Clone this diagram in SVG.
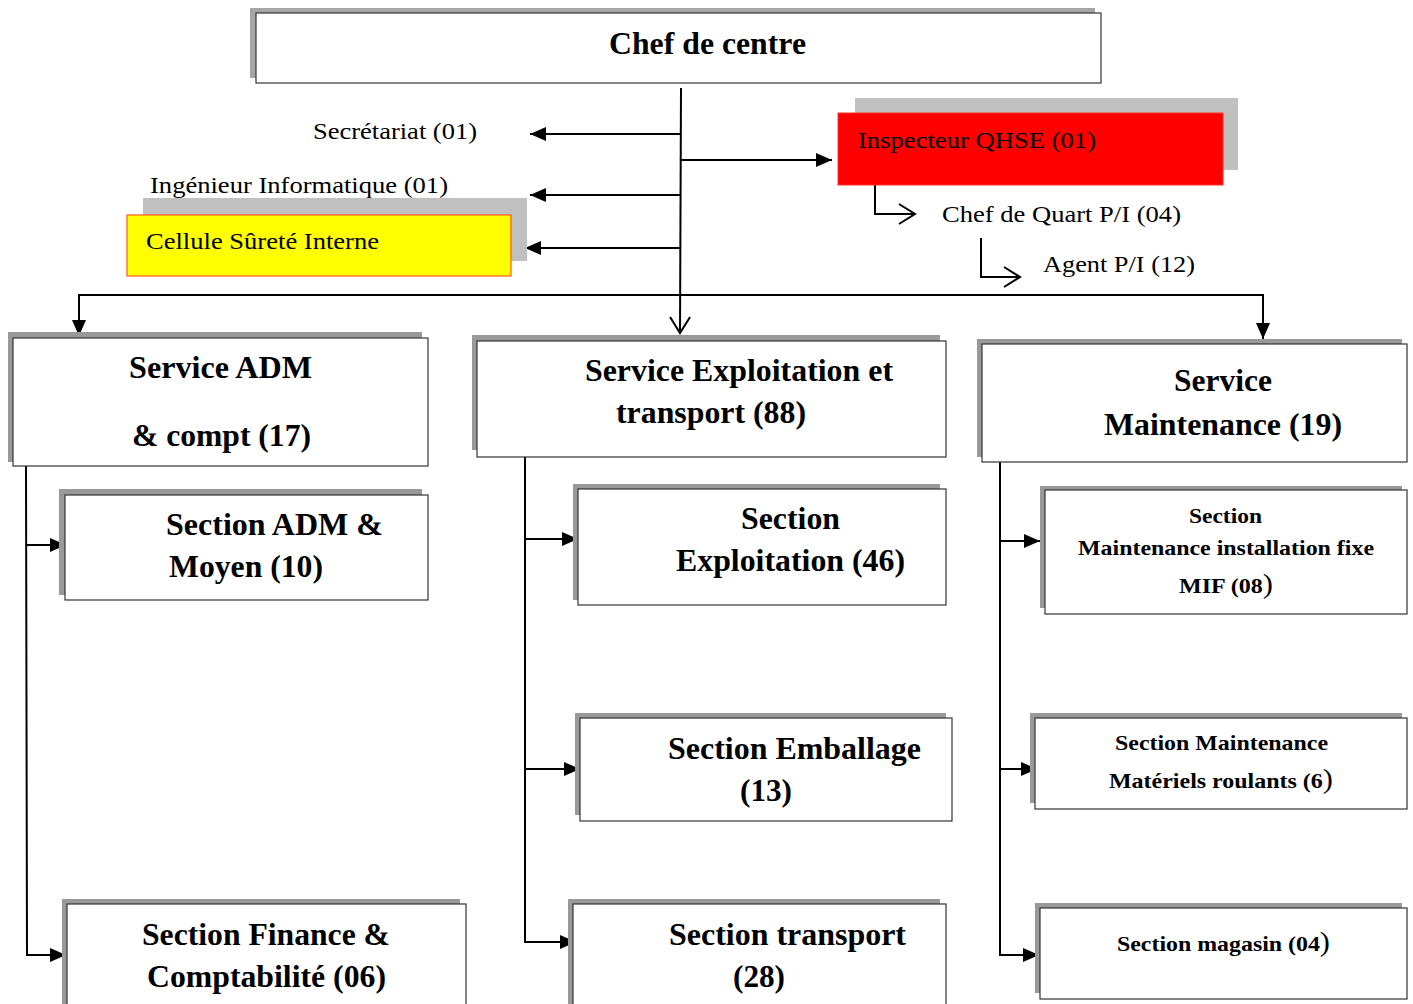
<svg xmlns="http://www.w3.org/2000/svg" width="1413" height="1004" viewBox="0 0 1413 1004">
<style>
.box{fill:#fff;stroke:#333;stroke-width:1.2}
.sh{fill:#999}
.shl{fill:#c0c0c0}
.t{font-family:"Liberation Serif","Times New Roman",serif;fill:#000}
.b{font-weight:bold;font-size:31px}
.s{font-weight:bold;font-size:22px}
.r{font-size:24px}
.ln{stroke:#000;stroke-width:2;fill:none}
</style>
<defs>
<marker id="fa" markerUnits="userSpaceOnUse" markerWidth="18" markerHeight="16" refX="16" refY="8" orient="auto">
<path d="M0,1 L16,8 L0,15 Z" fill="#000"/>
</marker>
<marker id="oa" markerUnits="userSpaceOnUse" markerWidth="20" markerHeight="24" refX="18" refY="12" orient="auto">
<path d="M2,2 L18,12 L2,22" fill="none" stroke="#000" stroke-width="2"/>
</marker>
</defs>

<g id="connectors">
<line class="ln" x1="681" y1="88" x2="680" y2="333" marker-end="url(#oa)"/>
<line class="ln" x1="681" y1="134" x2="530" y2="134" marker-end="url(#fa)"/>
<line class="ln" x1="681" y1="195" x2="530" y2="195" marker-end="url(#fa)"/>
<line class="ln" x1="680" y1="248" x2="525" y2="248" marker-end="url(#fa)"/>
<line class="ln" x1="681" y1="160" x2="832" y2="160" marker-end="url(#fa)"/>
<polyline class="ln" points="875,176 875,214 915,214" marker-end="url(#oa)"/>
<polyline class="ln" points="981,238 981,277 1020,277" marker-end="url(#oa)"/>
<polyline class="ln" points="79,295 1263,295"/>
<line class="ln" x1="79" y1="294" x2="79" y2="336" marker-end="url(#fa)"/>
<line class="ln" x1="1263" y1="294" x2="1263" y2="339" marker-end="url(#fa)"/>
<polyline class="ln" points="26,466 27,955 66,955" marker-end="url(#fa)"/>
<line class="ln" x1="27" y1="545" x2="66" y2="545" marker-end="url(#fa)"/>
<polyline class="ln" points="525,457 525,942 576,942" marker-end="url(#fa)"/>
<line class="ln" x1="525" y1="539" x2="578" y2="539" marker-end="url(#fa)"/>
<line class="ln" x1="525" y1="769" x2="580" y2="769" marker-end="url(#fa)"/>
<polyline class="ln" points="1000,462 1000,955 1039,955" marker-end="url(#fa)"/>
<line class="ln" x1="1000" y1="541" x2="1040" y2="541" marker-end="url(#fa)"/>
<line class="ln" x1="1000" y1="769" x2="1037" y2="769" marker-end="url(#fa)"/>
</g>

<g id="chef">
<rect x="250" y="8" width="845" height="70" fill="#a6a6a6"/>
<rect class="box" x="256" y="13" width="845" height="70"/>
<text class="t b" x="609" y="54" textLength="197" lengthAdjust="spacingAndGlyphs">Chef de centre</text>
</g>

<g id="secretariat">
<text class="t r" x="313" y="139" textLength="164" lengthAdjust="spacingAndGlyphs">Secrétariat (01)</text>
</g>

<g id="ingenieur">
<text class="t r" x="150" y="193" textLength="298" lengthAdjust="spacingAndGlyphs">Ingénieur Informatique (01)</text>
</g>

<g id="cellule">
<rect class="shl" x="143" y="198" width="384" height="63"/>
<rect x="127" y="215" width="384" height="61" fill="#ffff00" stroke="#ff5a1e" stroke-width="1.2"/>
<text class="t r" x="146" y="249" textLength="233" lengthAdjust="spacingAndGlyphs">Cellule Sûreté Interne</text>
</g>

<g id="qhse">
<rect class="shl" x="855" y="98" width="383" height="72"/>
<rect x="838" y="113" width="385" height="72" fill="#ff0000" stroke="#ff3030" stroke-width="1"/>
<text class="t r" x="858" y="148" fill="#1a0000" textLength="238" lengthAdjust="spacingAndGlyphs">Inspecteur QHSE (01)</text>
</g>

<g id="chefquart">
<text class="t r" x="942" y="222" textLength="239" lengthAdjust="spacingAndGlyphs">Chef de Quart P/I (04)</text>
</g>

<g id="agent">
<text class="t r" x="1043" y="272" textLength="152" lengthAdjust="spacingAndGlyphs">Agent P/I (12)</text>
</g>

<g id="service-adm">
<rect class="sh" x="8" y="332" width="414" height="130"/>
<rect class="box" x="13" y="338" width="415" height="128"/>
<text class="t b" x="129" y="378" textLength="183" lengthAdjust="spacingAndGlyphs">Service ADM</text>
<text class="t b" x="132" y="446" textLength="179" lengthAdjust="spacingAndGlyphs">&amp; compt (17)</text>
</g>

<g id="service-exploitation">
<rect class="sh" x="472" y="335" width="468" height="115"/>
<rect class="box" x="477" y="341" width="469" height="116"/>
<text class="t b" x="585" y="381" textLength="308" lengthAdjust="spacingAndGlyphs">Service Exploitation et</text>
<text class="t b" x="616" y="423" textLength="190" lengthAdjust="spacingAndGlyphs">transport (88)</text>
</g>

<g id="service-maintenance">
<rect class="sh" x="977" y="339" width="425" height="118"/>
<rect class="box" x="982" y="344" width="425" height="118"/>
<text class="t b" x="1174" y="391" textLength="98" lengthAdjust="spacingAndGlyphs">Service</text>
<text class="t b" x="1104" y="435" textLength="238" lengthAdjust="spacingAndGlyphs">Maintenance (19)</text>
</g>

<g id="section-adm-moyen">
<rect class="sh" x="59" y="489" width="363" height="106"/>
<rect class="box" x="65" y="495" width="363" height="105"/>
<text class="t b" x="166" y="535" textLength="217" lengthAdjust="spacingAndGlyphs">Section ADM &amp;</text>
<text class="t b" x="169" y="577" textLength="154" lengthAdjust="spacingAndGlyphs">Moyen (10)</text>
</g>

<g id="section-finance">
<rect class="sh" x="62" y="899" width="398" height="110"/>
<rect class="box" x="67" y="904" width="399" height="110"/>
<text class="t b" x="142" y="945" textLength="248" lengthAdjust="spacingAndGlyphs">Section Finance &amp;</text>
<text class="t b" x="147" y="987" textLength="239" lengthAdjust="spacingAndGlyphs">Comptabilité (06)</text>
</g>

<g id="section-exploitation">
<rect class="sh" x="573" y="484" width="367" height="116"/>
<rect class="box" x="578" y="489" width="368" height="116"/>
<text class="t b" x="741" y="529" textLength="99" lengthAdjust="spacingAndGlyphs">Section</text>
<text class="t b" x="676" y="571" textLength="229" lengthAdjust="spacingAndGlyphs">Exploitation (46)</text>
</g>

<g id="section-emballage">
<rect class="sh" x="575" y="713" width="371" height="102"/>
<rect class="box" x="580" y="718" width="372" height="103"/>
<text class="t b" x="668" y="759" textLength="253" lengthAdjust="spacingAndGlyphs">Section Emballage</text>
<text class="t b" x="740" y="801" textLength="52" lengthAdjust="spacingAndGlyphs">(13)</text>
</g>

<g id="section-transport">
<rect class="sh" x="568" y="899" width="372" height="110"/>
<rect class="box" x="573" y="904" width="373" height="110"/>
<text class="t b" x="669" y="945" textLength="237" lengthAdjust="spacingAndGlyphs">Section transport</text>
<text class="t b" x="733" y="987" textLength="52" lengthAdjust="spacingAndGlyphs">(28)</text>
</g>

<g id="section-mif">
<rect class="sh" x="1040" y="486" width="362" height="122"/>
<rect class="box" x="1045" y="490" width="362" height="124"/>
<text class="t s" x="1189" y="523" textLength="73" lengthAdjust="spacingAndGlyphs">Section</text>
<text class="t s" x="1078" y="555" textLength="296" lengthAdjust="spacingAndGlyphs">Maintenance installation fixe</text>
<text class="t s" x="1179" y="593" textLength="94" lengthAdjust="spacingAndGlyphs">MIF (08<tspan font-size="28px" font-weight="normal">)</tspan></text>
</g>

<g id="section-mr">
<rect class="sh" x="1030" y="713" width="372" height="90"/>
<rect class="box" x="1035" y="718" width="372" height="91"/>
<text class="t s" x="1115" y="750" textLength="213" lengthAdjust="spacingAndGlyphs">Section Maintenance</text>
<text class="t s" x="1109" y="788" textLength="224" lengthAdjust="spacingAndGlyphs">Matériels roulants (6<tspan font-size="28px" font-weight="normal">)</tspan></text>
</g>

<g id="section-magasin">
<rect class="sh" x="1035" y="903" width="367" height="90"/>
<rect class="box" x="1040" y="908" width="367" height="91"/>
<text class="t s" x="1117" y="951" textLength="213" lengthAdjust="spacingAndGlyphs">Section magasin (04<tspan font-size="28px" font-weight="normal">)</tspan></text>
</g>
</svg>
